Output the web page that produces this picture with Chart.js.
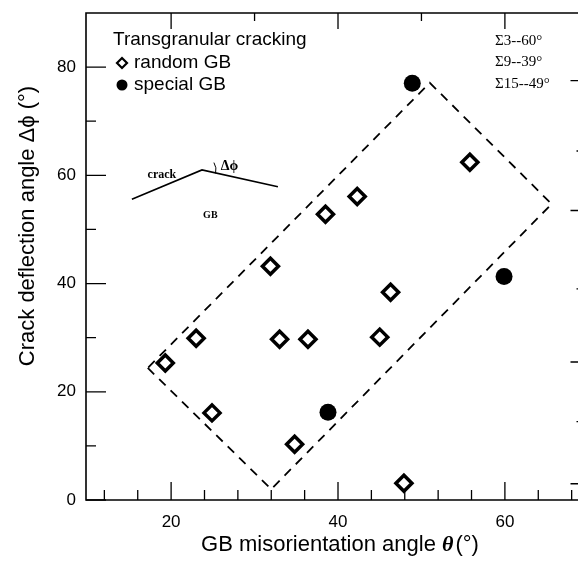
<!DOCTYPE html>
<html>
<head>
<meta charset="utf-8">
<script src="https://cdn.jsdelivr.net/npm/chart.js@4/dist/chart.umd.min.js"></script>
<style>
html, body { margin: 0; padding: 0; background: #fff; overflow: hidden; }
#wrap { width: 594px; height: 563px; }
</style>
</head>
<body>
<div id="wrap"><canvas id="chart" width="594" height="563"></canvas></div>
<script>
// random GB (open diamonds)
const randomX = [19.3, 23.0, 24.9, 31.9, 33.0, 36.4, 34.8, 38.5, 42.3, 45.0, 46.3, 47.9, 55.8]
const randomY = [25.3, 29.9, 16.1, 43.2, 29.7, 29.7, 10.3, 52.8, 56.1, 30.1, 38.4, 3.1, 62.4]

// special GB (filled circles)
const specialX = [38.8, 48.9, 59.9]
const specialY = [16.2, 77.0, 41.3]

// dashed envelope
const boxX = [17.2, 32.0, 65.6, 51.0, 17.2]
const boxY = [24.4, 2.0, 54.7, 77.1, 24.4]

// inset sketch of the deflected crack
const crackX = [15.3, 23.7, 32.8]
const crackY = [55.6, 61.0, 57.9]

const sigmaLabels = ["\u03A33--60\u00B0", "\u03A39--39\u00B0", "\u03A315--49\u00B0"]

// axis ticks
const xTicks = [12, 16, 20, 24, 28, 32, 36, 40, 44, 48, 52, 56, 60, 64, 68]
const xLabels = [20, 40, 60]
const topTicks = [20, 30, 40, 50, 60]
const yTicks = [0, 10, 20, 30, 40, 50, 60, 70, 80]
const yLabels = [0, 20, 40, 60, 80]
const rightTicks = [3, 14.5, 25.5, 39, 53.5, 64.5, 77.5]

const pts = (xs, ys) => xs.map((x, i) => ({ x: x, y: ys[i] }))
const SANS = "'Liberation Sans', Arial, sans-serif"
const SERIF = "'Liberation Serif', 'Times New Roman', serif"

const setTicks = (list) => (scale) => { scale.ticks = list.map(v => ({ value: v })) }

const decor = {
    id: "decor",
    afterDraw(chart) {
        const ctx = chart.ctx, a = chart.chartArea, s = chart.scales
        ctx.save()
        ctx.strokeStyle = "#000"
        ctx.fillStyle = "#000"

        // frame (right side is cut off in the picture)
        ctx.lineWidth = 1.6
        ctx.beginPath()
        ctx.moveTo(a.right, a.top)
        ctx.lineTo(a.left, a.top)
        ctx.lineTo(a.left, a.bottom)
        ctx.lineTo(a.right, a.bottom)
        ctx.stroke()

        // inward ticks
        ctx.lineWidth = 1.3
        ctx.beginPath()
        xTicks.forEach(v => {
            const p = s.x.getPixelForValue(v), l = v % 20 ? 10 : 18
            ctx.moveTo(p, a.bottom); ctx.lineTo(p, a.bottom - l)
        })
        topTicks.forEach(v => {
            const p = s.x2.getPixelForValue(v), l = v % 20 ? 8 : 16
            ctx.moveTo(p, a.top); ctx.lineTo(p, a.top + l)
        })
        yTicks.forEach(v => {
            const p = s.y.getPixelForValue(v), l = v % 20 ? 10 : 20
            ctx.moveTo(a.left, p); ctx.lineTo(a.left + l, p)
        })
        rightTicks.forEach((v, i) => {
            const p = s.y2.getPixelForValue(v), l = i % 2 ? 6 : 12
            ctx.moveTo(a.right, p); ctx.lineTo(a.right - l, p)
        })
        ctx.stroke()

        // small arc at the crack kink
        const kx = s.x.getPixelForValue(crackX[1]), ky = s.y.getPixelForValue(crackY[1])
        ctx.lineWidth = 1
        ctx.beginPath()
        ctx.arc(kx, ky, 14, -0.55, 0.25)
        ctx.stroke()

        // inset labels
        ctx.textAlign = "center"
        ctx.textBaseline = "middle"
        ctx.font = "bold 12px " + SERIF
        ctx.fillText("crack", s.x.getPixelForValue(18.9), s.y.getPixelForValue(60.1))
        ctx.font = "bold 14px " + SERIF
        ctx.fillText("\u0394\u03D5", s.x.getPixelForValue(27.0), s.y.getPixelForValue(61.6))
        ctx.font = "bold 10px " + SERIF
        ctx.fillText("GB", s.x.getPixelForValue(24.7), s.y.getPixelForValue(52.5))

        // legend
        ctx.textAlign = "left"
        ctx.font = "19px " + SANS
        ctx.fillText("Transgranular cracking", 113, 40)
        ctx.fillText("random GB", 134, 63)
        ctx.fillText("special GB", 134, 85)
        ctx.lineWidth = 2.2
        ctx.beginPath()
        ctx.moveTo(122, 58); ctx.lineTo(127, 63); ctx.lineTo(122, 68); ctx.lineTo(117, 63); ctx.closePath()
        ctx.stroke()
        ctx.beginPath()
        ctx.arc(122, 85, 5.5, 0, Math.PI * 2)
        ctx.fill()

        // sigma notes
        ctx.font = "15px " + SERIF
        sigmaLabels.forEach((t, i) => ctx.fillText(t, 495, 41 + i * 21.5))

        // axis titles
        ctx.font = "22px " + SANS
        ctx.save()
        ctx.translate(28, 226)
        ctx.rotate(-Math.PI / 2)
        ctx.textAlign = "center"
        ctx.fillText("Crack deflection angle \u0394\u03D5 (\u00B0)", 0, 0)
        ctx.restore()

        const p1 = "GB misorientation angle ", p2 = "\u03B8", p3 = "(\u00B0)"
        ctx.font = "22px " + SANS
        const w1 = ctx.measureText(p1).width, w3 = ctx.measureText(p3).width
        ctx.font = "bold italic 22px " + SERIF
        const w2 = ctx.measureText(p2).width + 2
        let x0 = 340 - (w1 + w2 + w3) / 2
        ctx.font = "22px " + SANS
        ctx.fillText(p1, x0, 545)
        ctx.font = "bold italic 22px " + SERIF
        ctx.fillText(p2, x0 + w1, 545)
        ctx.font = "22px " + SANS
        ctx.fillText(p3, x0 + w1 + w2, 545)
        ctx.restore()
    }
}

new Chart(document.getElementById("chart").getContext("2d"), {
    type: "scatter",
    data: {
        datasets: [{
            label: "random GB",
            data: pts(randomX, randomY),
            pointStyle: "rectRot",
            pointRadius: 8,
            pointBackgroundColor: "#fff",
            pointBorderColor: "#000",
            pointBorderWidth: 3.5
        }, {
            label: "special GB",
            data: pts(specialX, specialY),
            pointStyle: "circle",
            pointRadius: 8.5,
            pointBackgroundColor: "#000",
            pointBorderColor: "#000",
            pointBorderWidth: 0
        }, {
            label: "envelope",
            data: pts(boxX, boxY),
            showLine: true,
            borderColor: "#000",
            borderWidth: 1.8,
            borderDash: [9, 7],
            pointRadius: 0,
            fill: false
        }, {
            label: "crack",
            data: pts(crackX, crackY),
            showLine: true,
            borderColor: "#000",
            borderWidth: 1.6,
            pointRadius: 0,
            fill: false
        }]
    },
    plugins: [decor],
    options: {
        responsive: false,
        animation: false,
        layout: { padding: 0 },
        plugins: { legend: { display: false }, tooltip: { enabled: false } },
        scales: {
            x: {
                type: "linear", position: "bottom", min: 9.8, max: 69.3,
                afterBuildTicks: setTicks(xTicks),
                afterFit: (sc) => { sc.height = 63 },
                grid: { display: false, drawTicks: true, tickLength: 12 },
                border: { display: false },
                ticks: {
                    padding: 0, color: "#000", font: { family: SANS, size: 17 },
                    maxRotation: 0, autoSkip: false,
                    callback: (v) => xLabels.includes(v) ? String(v) : ""
                }
            },
            x2: {
                type: "linear", position: "top", min: 9.8, max: 69.3,
                afterBuildTicks: setTicks(topTicks),
                afterFit: (sc) => { sc.height = 13 },
                grid: { display: false, drawTicks: false },
                border: { display: false },
                ticks: { display: false, padding: 0 }
            },
            y: {
                type: "linear", position: "left", min: 0, max: 90,
                afterBuildTicks: setTicks(yTicks),
                afterFit: (sc) => { sc.width = 86 },
                grid: { display: false, drawTicks: true, tickLength: 10 },
                border: { display: false },
                ticks: {
                    padding: 0, color: "#000", font: { family: SANS, size: 17 },
                    autoSkip: false,
                    callback: (v) => yLabels.includes(v) ? String(v) : ""
                }
            },
            y2: {
                type: "linear", position: "right", min: 0, max: 90,
                afterBuildTicks: setTicks(rightTicks),
                afterFit: (sc) => { sc.width = 0 },
                grid: { display: false, drawTicks: false },
                border: { display: false },
                ticks: { display: false, padding: 0 }
            }
        }
    }
})
</script>
</body>
</html>
